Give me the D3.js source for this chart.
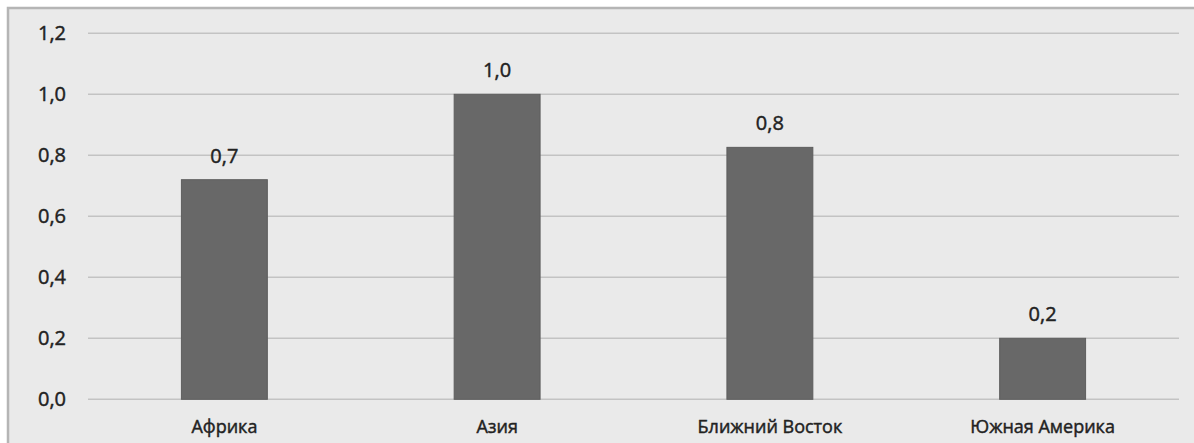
<!DOCTYPE html>
<html><head><meta charset="utf-8">
<script src="https://cdn.jsdelivr.net/npm/d3@7"></script>
<style>html,body{margin:0;padding:0;background:#fff;}svg{display:block;}</style>
</head><body>
<script>
const categories = ["Африка", "Азия", "Ближний Восток", "Южная Америка"];
const values = [0.72, 1.0, 0.826, 0.2];
const tickValues = [0, 0.2, 0.4, 0.6, 0.8, 1.0, 1.2];

const W = 1194, H = 443;
const svg = d3.select("body").append("svg").attr("width", W).attr("height", H);
const font = "'Open Sans', Lato, sans-serif";
const fs = 20;
const ink = "#222";

svg.append("rect").attr("x", 8).attr("y", 8).attr("width", W + 20).attr("height", H + 20)
  .attr("fill", "#eaeaea").attr("stroke", "#b5b5b5").attr("stroke-width", 2.5);

const x = d3.scaleBand().domain(categories).range([88, 1179]).paddingInner(0.685).paddingOuter(0.3425);
const y = d3.scaleLinear().domain([0, 1.2]).range([399.3, 33.3]);
const fmt = v => d3.format(".1f")(v).replace(".", ",");

function styleText(sel, size) {
  sel.attr("font-family", font).attr("font-size", size).attr("fill", ink)
     .attr("stroke", ink).attr("stroke-width", 0.45);
}

// gridlines
svg.append("g").selectAll("line").data(tickValues).join("line")
  .attr("x1", 88).attr("x2", 1179)
  .attr("y1", d => y(d)).attr("y2", d => y(d))
  .attr("stroke", "#c3c3c3").attr("stroke-width", 1.5);

// y axis labels
const yAxis = d3.axisLeft(y).tickValues(tickValues).tickFormat(fmt).tickSize(0).tickPadding(0);
const yg = svg.append("g").attr("transform", "translate(66,0)").call(yAxis);
yg.select(".domain").remove();
styleText(yg.selectAll("text"), fs);

// bars
svg.append("g").selectAll("rect").data(values).join("rect")
  .attr("x", (d, i) => x(categories[i]))
  .attr("width", x.bandwidth())
  .attr("y", d => y(d))
  .attr("height", d => y(0) - y(d))
  .attr("fill", "#686868").attr("stroke", "#5e5e5e").attr("stroke-width", 1);

// value labels
const vl = svg.append("g").selectAll("text").data(values).join("text")
  .attr("x", (d, i) => x(categories[i]) + x.bandwidth() / 2)
  .attr("y", d => y(d) - 17)
  .attr("text-anchor", "middle")
  .text(d => fmt(d));
styleText(vl, fs);

// x axis labels
const xAxis = d3.axisBottom(x).tickSize(0).tickPadding(0);
const xg = svg.append("g").attr("transform", "translate(0,420)").call(xAxis);
xg.select(".domain").remove();
styleText(xg.selectAll("text").attr("dy", "0.71em").attr("y", 0), 18);
</script>
</body></html>
